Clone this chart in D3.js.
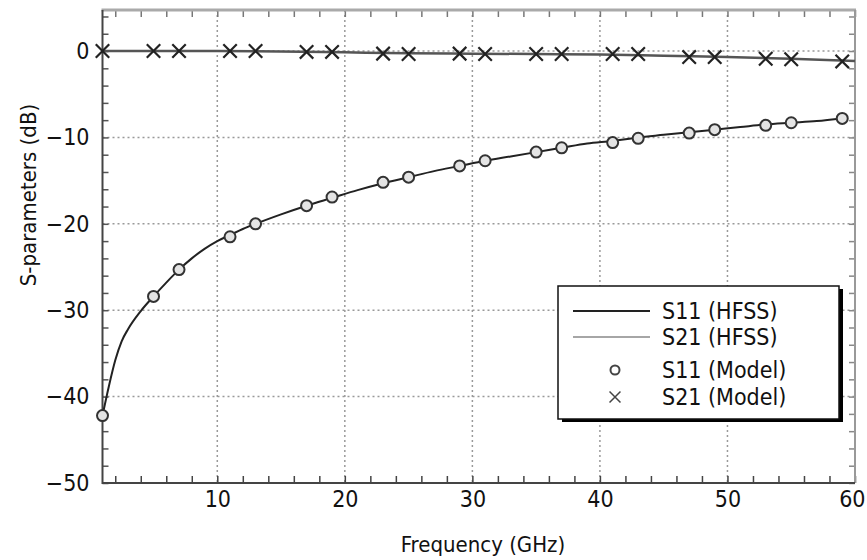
<!DOCTYPE html>
<html>
<head>
<meta charset="utf-8">
<script src="https://cdn.jsdelivr.net/npm/d3@7"></script>
<style>
  body { margin: 0; background: #fff; }
  svg text { font-family: "Liberation Sans Narrow", "Arial Narrow", "DejaVu Sans Condensed", sans-serif; fill: #111; }
</style>
</head>
<body>
<svg id="plot"></svg>
<script>
// Data
const xMajor = [10, 20, 30, 40, 50, 60];
const yMajor = [0, -10, -20, -30, -40, -50];

// S11 (HFSS) curve
const s11Freq = [1, 1.5, 2, 2.5, 3, 4, 5, 6, 7, 8, 9, 10, 11, 12, 13, 15, 17, 19, 21, 23, 25, 27, 29, 31, 33, 35, 37, 39, 41, 43, 45, 47, 49, 51, 53, 55, 57, 59];
const s11Hfss = [-42.2, -38.8, -35.8, -33.6, -32.2, -30.1, -28.4, -26.8, -25.3, -24.0, -22.9, -22.0, -21.3, -20.6, -20.0, -18.9, -17.9, -17.0, -16.1, -15.3, -14.6, -13.9, -13.3, -12.7, -12.2, -11.7, -11.2, -10.7, -10.4, -10.0, -9.7, -9.4, -9.1, -8.8, -8.5, -8.3, -8.1, -7.8];

// S21 (HFSS) curve
const s21Freq = [1, 10, 15, 20, 25, 30, 35, 40, 45, 50, 55, 60];
const s21Hfss = [0, 0, -0.05, -0.15, -0.25, -0.3, -0.35, -0.4, -0.55, -0.7, -0.9, -1.15];

// Model points
const modelFreq = [1, 5, 7, 11, 13, 17, 19, 23, 25, 29, 31, 35, 37, 41, 43, 47, 49, 53, 55, 59];
const s11Model = [-42.2, -28.4, -25.3, -21.5, -20.0, -17.9, -16.9, -15.2, -14.6, -13.3, -12.7, -11.7, -11.2, -10.6, -10.1, -9.5, -9.1, -8.6, -8.3, -7.8];
const s21Model = [0, 0, 0, 0, 0, -0.1, -0.1, -0.3, -0.35, -0.3, -0.35, -0.35, -0.35, -0.35, -0.35, -0.7, -0.7, -0.9, -0.95, -1.2];

const legendLabels = ["S11 (HFSS)", "S21 (HFSS)", "S11 (Model)", "S21 (Model)"];

const width = 867, height = 560;
const svg = d3.select("#plot").attr("width", width).attr("height", height);

const mLeft = 102.5, mRight = 855, mTop = 10, mBottom = 483;

const x = d3.scaleLinear().domain([1, 60]).range([mLeft, mRight]);
const y = d3.scaleLinear().domain([-50, 4.75]).range([mBottom, mTop]);

const xMinor = d3.range(2, 60, 2).filter(v => v % 10 !== 0);
const yMinor = d3.range(-48, 5, 2).filter(v => v % 10 !== 0);

// Grid
svg.append("g").selectAll("line").data(xMajor.filter(v => v < 60)).enter().append("line")
    .attr("x1", d => x(d)).attr("x2", d => x(d))
    .attr("y1", mTop).attr("y2", mBottom)
    .attr("stroke", "#999").attr("stroke-width", 1.5).attr("stroke-dasharray", "2,3");
svg.append("g").selectAll("line").data(yMajor.filter(v => v > -50)).enter().append("line")
    .attr("x1", mLeft).attr("x2", mRight)
    .attr("y1", d => y(d)).attr("y2", d => y(d))
    .attr("stroke", "#999").attr("stroke-width", 1.5).attr("stroke-dasharray", "2,3");

// Minor ticks (inward) on all four sides
function styleTicks(g, color) {
    g.select(".domain").remove();
    g.selectAll("line").attr("stroke", color).attr("stroke-width", 1.5);
}
svg.append("g").attr("transform", `translate(0,${mBottom})`)
    .call(d3.axisBottom(x).tickValues(xMinor.concat(xMajor)).tickSize(-7).tickFormat(""))
    .call(g => styleTicks(g, "#444"));
svg.append("g").attr("transform", `translate(0,${mTop})`)
    .call(d3.axisTop(x).tickValues(xMinor.concat(xMajor)).tickSize(-7).tickFormat(""))
    .call(g => styleTicks(g, "#777"));
svg.append("g").attr("transform", `translate(${mLeft},0)`)
    .call(d3.axisLeft(y).tickValues(yMinor.concat(yMajor)).tickSize(-6).tickFormat(""))
    .call(g => styleTicks(g, "#555"));
svg.append("g").attr("transform", `translate(${mRight},0)`)
    .call(d3.axisRight(y).tickValues(yMinor.concat(yMajor)).tickSize(-6).tickFormat(""))
    .call(g => styleTicks(g, "#888"));

// Frame
svg.append("line").attr("x1", mLeft - 1).attr("x2", mRight + 1).attr("y1", mTop).attr("y2", mTop)
    .attr("stroke", "#aaa").attr("stroke-width", 3);
svg.append("line").attr("x1", mRight).attr("x2", mRight).attr("y1", mTop).attr("y2", mBottom)
    .attr("stroke", "#999").attr("stroke-width", 2);
svg.append("line").attr("x1", mLeft).attr("x2", mLeft).attr("y1", mTop).attr("y2", mBottom + 1)
    .attr("stroke", "#444").attr("stroke-width", 2);
svg.append("line").attr("x1", mLeft).attr("x2", mRight).attr("y1", mBottom).attr("y2", mBottom)
    .attr("stroke", "#444").attr("stroke-width", 2);

// Tick labels
const xLab = svg.append("g").attr("transform", `translate(0,${mBottom})`)
    .call(d3.axisBottom(x).tickValues(xMajor).tickSize(0).tickPadding(8).tickFormat(d3.format("d")));
xLab.select(".domain").remove();
xLab.selectAll("text").style("font-size", "23px").attr("fill", "#111");
// last label sits against the right edge
xLab.selectAll("text").filter(d => d === 60).attr("text-anchor", "end").attr("dx", 10);

const yLab = svg.append("g").attr("transform", `translate(${mLeft},0)`)
    .call(d3.axisLeft(y).tickValues(yMajor).tickSize(0).tickPadding(13)
        .tickFormat(d => d < 0 ? "\u2212" + Math.abs(d) : String(d)));
yLab.select(".domain").remove();
yLab.selectAll("text").style("font-size", "23px").attr("fill", "#111");

// Axis titles
svg.append("text").attr("x", 483).attr("y", 552).attr("text-anchor", "middle")
    .style("font-size", "22px").text("Frequency (GHz)");
svg.append("text").attr("transform", "translate(36,195) rotate(-90)").attr("text-anchor", "middle")
    .style("font-size", "22px").text("S-parameters (dB)");

// Lines
const line = d3.line().x(d => x(d[0])).y(d => y(d[1])).curve(d3.curveMonotoneX);
svg.append("path").datum(d3.zip(s21Freq, s21Hfss)).attr("d", line)
    .attr("fill", "none").attr("stroke", "#555").attr("stroke-width", 2.5);
svg.append("path").datum(d3.zip(s11Freq, s11Hfss)).attr("d", line)
    .attr("fill", "none").attr("stroke", "#222").attr("stroke-width", 2);

// Markers
svg.append("g").selectAll("circle").data(d3.zip(modelFreq, s11Model)).enter().append("circle")
    .attr("cx", d => x(d[0])).attr("cy", d => y(d[1])).attr("r", 5.5)
    .attr("fill", "#e4e4e4").attr("stroke", "#333").attr("stroke-width", 2);
const cross = d3.symbol().type(d3.symbolX).size(120);
svg.append("g").selectAll("path").data(d3.zip(modelFreq, s21Model)).enter().append("path")
    .attr("transform", d => `translate(${x(d[0])},${y(d[1])})`)
    .attr("d", cross).attr("fill", "#222").attr("stroke", "#222").attr("stroke-width", 2.2);

// Legend
const lg = svg.append("g");
lg.append("rect").attr("x", 562).attr("y", 289).attr("width", 281).attr("height", 133).attr("fill", "#000");
lg.append("rect").attr("x", 558).attr("y", 286).attr("width", 281).attr("height", 133)
    .attr("fill", "#fff").attr("stroke", "#111").attr("stroke-width", 1.5);
const rowY = [311, 337, 370, 397];
legendLabels.forEach((lab, i) => {
    lg.append("text").attr("x", 662).attr("y", rowY[i]).attr("dy", "0.35em")
        .style("font-size", "23px").text(lab);
});
lg.append("line").attr("x1", 573).attr("x2", 650).attr("y1", rowY[0]).attr("y2", rowY[0])
    .attr("stroke", "#222").attr("stroke-width", 2);
lg.append("line").attr("x1", 573).attr("x2", 650).attr("y1", rowY[1]).attr("y2", rowY[1])
    .attr("stroke", "#888").attr("stroke-width", 1.5);
lg.append("circle").attr("cx", 615).attr("cy", rowY[2]).attr("r", 4.5)
    .attr("fill", "#fff").attr("stroke", "#444").attr("stroke-width", 2);
lg.append("path").attr("transform", `translate(615,${rowY[3]})`)
    .attr("d", d3.symbol().type(d3.symbolX).size(80))
    .attr("fill", "#444").attr("stroke", "#444").attr("stroke-width", 1.5);
</script>
</body>
</html>
